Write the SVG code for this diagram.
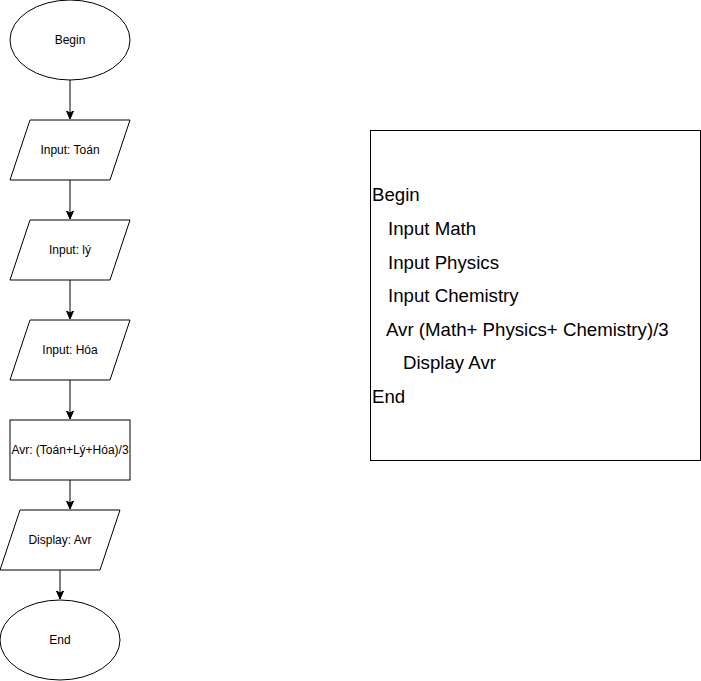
<svg xmlns="http://www.w3.org/2000/svg" width="701" height="681" viewBox="0 0 701 681">
<style>
.s{fill:#fff;stroke:#000;stroke-width:1}
.t{font-family:"Liberation Sans",Arial,sans-serif;font-size:12px;fill:#000;text-anchor:middle}
.p{font-family:"Liberation Sans",Arial,sans-serif;font-size:18.67px;fill:#000}
.c{stroke:#000;stroke-width:1;fill:none}
</style>
<defs>
<marker id="a" markerWidth="10" markerHeight="10" refX="8" refY="4" orient="auto" markerUnits="userSpaceOnUse">
<path d="M0,0.5 L8,4 L0,7.5 L2,4 Z" fill="#000" stroke="#000" stroke-width="1"/>
</marker>
</defs>
<rect width="701" height="681" fill="#fff"/>
<g id="connectors">
<path class="c" d="M70,80 L70,119" marker-end="url(#a)"/>
<path class="c" d="M70,180 L70,219" marker-end="url(#a)"/>
<path class="c" d="M70,280 L70,319" marker-end="url(#a)"/>
<path class="c" d="M70,380 L70,419" marker-end="url(#a)"/>
<path class="c" d="M70,480 L70,509" marker-end="url(#a)"/>
<path class="c" d="M60,570 L60,599" marker-end="url(#a)"/>
</g>
<g id="begin">
<ellipse class="s" cx="70" cy="40" rx="60" ry="40"/>
<text class="t" x="70" y="44">Begin</text>
</g>
<g id="input-toan">
<polygon class="s" points="30,120 130,120 110,180 10,180"/>
<text class="t" x="70" y="154">Input: Toán</text>
</g>
<g id="input-ly">
<polygon class="s" points="30,220 130,220 110,280 10,280"/>
<text class="t" x="70" y="254">Input: lý</text>
</g>
<g id="input-hoa">
<polygon class="s" points="30,320 130,320 110,380 10,380"/>
<text class="t" x="70" y="354">Input: Hóa</text>
</g>
<g id="avr">
<rect class="s" x="10" y="420" width="120" height="60"/>
<text class="t" x="70" y="454">Avr: (Toán+Lý+Hóa)/3</text>
</g>
<g id="display">
<polygon class="s" points="20,510 120,510 100,570 0,570"/>
<text class="t" x="60" y="544">Display: Avr</text>
</g>
<g id="end">
<ellipse class="s" cx="60" cy="640" rx="60" ry="40"/>
<text class="t" x="60" y="644">End</text>
</g>
<g id="pseudocode">
<rect class="s" x="370.5" y="130.5" width="330" height="330"/>
<text class="p" x="372" y="201">Begin</text>
<text class="p" x="388" y="235">Input Math</text>
<text class="p" x="388" y="268.5">Input Physics</text>
<text class="p" x="388" y="302">Input Chemistry</text>
<text class="p" x="386" y="335.5">Avr (Math+ Physics+ Chemistry)/3</text>
<text class="p" x="403" y="369">Display Avr</text>
<text class="p" x="372" y="402.5">End</text>
</g>
</svg>
